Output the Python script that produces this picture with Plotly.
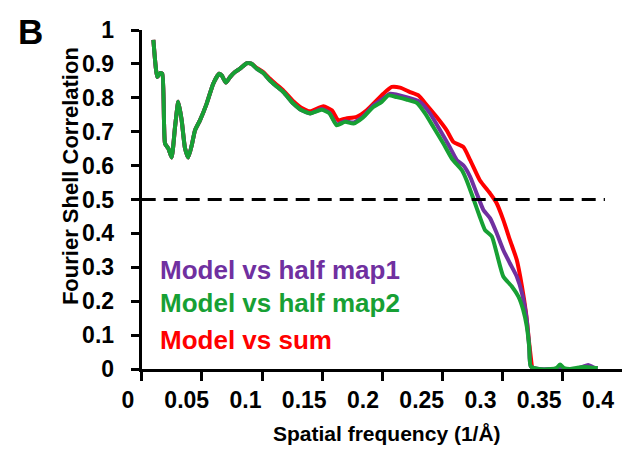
import plotly.graph_objects as go

# ---------------- data ----------------
freq_map2 = [0.0097, 0.013, 0.0152, 0.0171, 0.0194, 0.0221, 0.0249, 0.0277, 0.0304, 0.0332,
             0.036, 0.0387, 0.0416, 0.0443, 0.0485, 0.054, 0.0595, 0.0643, 0.0665, 0.070,
             0.0734, 0.0775, 0.0817, 0.0873, 0.0914, 0.0956, 0.101, 0.1066, 0.111, 0.1177,
             0.126, 0.133, 0.140, 0.1496, 0.156, 0.162, 0.169, 0.176, 0.184, 0.1925,
             0.1995, 0.205, 0.212, 0.220, 0.2286, 0.2355, 0.2424, 0.2507, 0.2577, 0.266,
             0.270, 0.2756, 0.281, 0.2853, 0.291, 0.295, 0.3005, 0.3075, 0.313, 0.317,
             0.320, 0.322, 0.3233, 0.330, 0.340, 0.345, 0.3477, 0.351, 0.356, 0.362,
             0.368, 0.374, 0.379]
fsc_map2 = [0.971, 0.861, 0.873, 0.871, 0.665, 0.651, 0.624, 0.714, 0.788, 0.734,
            0.651, 0.624, 0.660, 0.704, 0.734, 0.783, 0.842, 0.871, 0.866, 0.845,
            0.861, 0.876, 0.886, 0.902, 0.900, 0.886, 0.873, 0.851, 0.837, 0.817,
            0.783, 0.763, 0.754, 0.765, 0.754, 0.719, 0.729, 0.724, 0.742, 0.773,
            0.788, 0.807, 0.802, 0.795, 0.785, 0.754, 0.714, 0.665, 0.621, 0.587,
            0.557, 0.503, 0.449, 0.410, 0.391, 0.342, 0.273, 0.244, 0.214, 0.175,
            0.126, 0.067, 0.008, 0.0, 0.0, 0.004, 0.013, 0.003, 0.0, 0.004,
            0.006, 0.004, 0.003]

freq_map1 = [0.0097, 0.013, 0.0152, 0.0171, 0.0194, 0.0221, 0.0249, 0.0277, 0.0304, 0.0332,
             0.036, 0.0387, 0.0416, 0.0443, 0.0485, 0.054, 0.0595, 0.0643, 0.0665, 0.070,
             0.0734, 0.0775, 0.0817, 0.0873, 0.0914, 0.0956, 0.101, 0.1066, 0.111, 0.1177,
             0.126, 0.133, 0.140, 0.1496, 0.156, 0.162, 0.169, 0.176, 0.184, 0.1925,
             0.1995, 0.2064, 0.220, 0.2313, 0.2396, 0.248, 0.256, 0.262, 0.2673, 0.273,
             0.2784, 0.284, 0.2895, 0.295, 0.3005, 0.306, 0.3117, 0.316, 0.320, 0.322,
             0.3233, 0.330, 0.345, 0.360, 0.366, 0.371, 0.376, 0.379]
fsc_map1 = [0.971, 0.861, 0.873, 0.871, 0.665, 0.651, 0.624, 0.714, 0.788, 0.734,
            0.651, 0.624, 0.660, 0.704, 0.734, 0.783, 0.842, 0.871, 0.866, 0.845,
            0.861, 0.876, 0.886, 0.902, 0.900, 0.886, 0.873, 0.851, 0.837, 0.817,
            0.783, 0.763, 0.754, 0.767, 0.756, 0.722, 0.731, 0.727, 0.745, 0.777,
            0.795, 0.812, 0.802, 0.788, 0.754, 0.704, 0.655, 0.616, 0.601, 0.567,
            0.518, 0.469, 0.445, 0.401, 0.351, 0.312, 0.273, 0.224, 0.146, 0.067,
            0.008, 0.0, 0.0, 0.0, 0.006, 0.012, 0.004, 0.003]

freq_sum = [0.0097, 0.013, 0.0152, 0.0171, 0.0194, 0.0221, 0.0249, 0.0277, 0.0304, 0.0332,
            0.036, 0.0387, 0.0416, 0.0443, 0.0485, 0.054, 0.0595, 0.0643, 0.0665, 0.070,
            0.0734, 0.0775, 0.0817, 0.0873, 0.0914, 0.0956, 0.101, 0.1066, 0.111, 0.1177,
            0.126, 0.133, 0.140, 0.151, 0.158, 0.1634, 0.170, 0.1787, 0.187, 0.194,
            0.2008, 0.2078, 0.2147, 0.223, 0.230, 0.237, 0.245, 0.2535, 0.259, 0.2673,
            0.273, 0.281, 0.2895, 0.295, 0.3005, 0.306, 0.3117, 0.316, 0.3194, 0.322,
            0.3245]
fsc_sum = [0.971, 0.861, 0.873, 0.871, 0.665, 0.651, 0.624, 0.714, 0.788, 0.734,
           0.651, 0.624, 0.660, 0.704, 0.734, 0.783, 0.842, 0.871, 0.866, 0.845,
           0.861, 0.876, 0.886, 0.902, 0.900, 0.888, 0.876, 0.856, 0.842, 0.822,
           0.790, 0.770, 0.760, 0.775, 0.763, 0.734, 0.739, 0.744, 0.763, 0.788,
           0.812, 0.832, 0.830, 0.817, 0.807, 0.778, 0.744, 0.704, 0.670, 0.655,
           0.616, 0.557, 0.518, 0.489, 0.440, 0.381, 0.322, 0.244, 0.165, 0.077,
           0.0]

threshold = 0.5
x_ticks = [0, 0.05, 0.1, 0.15, 0.2, 0.25, 0.3, 0.35, 0.4]
x_tick_text = ["0", "0.05", "0.1", "0.15", "0.2", "0.25", "0.3", "0.35", "0.4"]
y_ticks = [0, 0.1, 0.2, 0.3, 0.4, 0.5, 0.6, 0.7, 0.8, 0.9, 1]
y_tick_text = ["0", "0.1", "0.2", "0.3", "0.4", "0.5", "0.6", "0.7", "0.8", "0.9", "1"]

series_names = ["Model vs half map1", "Model vs half map2", "Model vs sum"]
PURPLE = "#7030A0"
GREEN = "#17A034"
RED = "#FF0000"
FONT = "Liberation Sans, Arial, sans-serif"
CLEAR = "rgba(0,0,0,0)"

fig = go.Figure()
fig.add_trace(go.Scatter(x=freq_sum, y=fsc_sum, mode="lines", name=series_names[2],
                         line=dict(color=RED, width=4, shape="spline", smoothing=0.5)))
fig.add_trace(go.Scatter(x=freq_map1, y=fsc_map1, mode="lines", name=series_names[0],
                         line=dict(color=PURPLE, width=4, shape="spline", smoothing=0.5)))
fig.add_trace(go.Scatter(x=freq_map2, y=fsc_map2, mode="lines", name=series_names[1],
                         line=dict(color=GREEN, width=4, shape="spline", smoothing=0.5)))
fig.add_trace(go.Scatter(x=[0, 0.385], y=[threshold, threshold], mode="lines",
                         line=dict(color="black", width=3, dash="14px,8px"),
                         showlegend=False, hoverinfo="skip"))
# invisible helper traces so the label-only axes are drawn
fig.add_trace(go.Scatter(x=[0.2], y=[0.5], xaxis="x2", yaxis="y", mode="markers",
                         marker=dict(opacity=0), showlegend=False, hoverinfo="skip"))
fig.add_trace(go.Scatter(x=[0.2], y=[0.5], xaxis="x", yaxis="y2", mode="markers",
                         marker=dict(opacity=0), showlegend=False, hoverinfo="skip"))

# page is offset by the 8px body margin -> target pixel = page pixel - 8
OFF = 8
W, H = 630 - OFF, 449 - OFF
ml, mr, mt, mb = 100 - OFF, 7, 29.5 - OFF, H - (369.5 - OFF)
pw = W - ml - mr
ph = H - mt - mb
x0_px = 141.7
tickfont = dict(family=FONT, size=23, weight="bold", color="black")
fig.update_layout(
    width=W, height=H,
    margin=dict(l=ml, r=mr, t=mt, b=mb, pad=0),
    plot_bgcolor=CLEAR, paper_bgcolor="white",
    showlegend=False,
    font=dict(family=FONT, color="black"),
    xaxis=dict(domain=[(x0_px - 100) / pw, 1], range=[0, 0.4], tickvals=x_ticks,
               showticklabels=False, ticks="outside", ticklen=9, tickwidth=2.5,
               tickcolor="black", showline=True, linecolor="black", linewidth=3,
               showgrid=False, zeroline=False, anchor="y"),
    xaxis2=dict(domain=[0, 1], range=[-0.0238, 0.4213], tickvals=x_ticks,
                ticktext=x_tick_text, showline=False, ticks="outside", ticklen=10,
                tickcolor=CLEAR, showgrid=False, zeroline=False, anchor="y",
                side="bottom", tickfont=tickfont),
    yaxis=dict(range=[0, 1], tickvals=y_ticks, showticklabels=False,
               ticks="outside", ticklen=8, tickwidth=2.5, tickcolor="black",
               showline=True, linecolor="black", linewidth=3, showgrid=False,
               zeroline=False, anchor="x"),
    yaxis2=dict(range=[0, 1], overlaying="y", anchor="x", side="left",
                tickvals=y_ticks, ticktext=y_tick_text, ticks="outside", ticklen=22,
                tickcolor=CLEAR, showline=False, showgrid=False, zeroline=False,
                tickfont=tickfont),
)

def px2paper_x(p):
    return (p - 100) / pw

def px2paper_y(p):
    return (369.5 - p) / ph

def label(text, xp, yp, size, color="black", xanchor="center", angle=0):
    return dict(text=text, x=px2paper_x(xp), y=px2paper_y(yp), xref="paper", yref="paper",
                xanchor=xanchor, yanchor="middle", showarrow=False, textangle=angle,
                font=dict(family=FONT, size=size, weight="bold", color=color))

ann = [
    label("Spatial frequency (1/Å)", 387, 434, 21),
    label("Fourier Shell Correlation", 70, 176, 22, angle=-90),
    label("B", 30, 31, 35),
]
for name, col, yc in zip(series_names, [PURPLE, GREEN, RED], [270, 303, 340]):
    ann.append(label(name, 158, yc, 26, color=col, xanchor="left"))
fig.update_layout(annotations=ann)

fig.write_html("out.html")
